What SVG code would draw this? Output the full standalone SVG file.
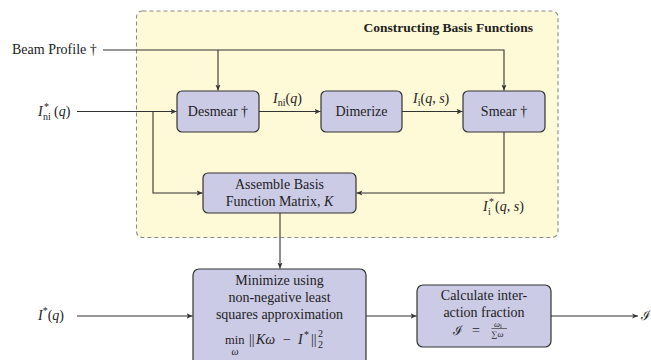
<svg xmlns="http://www.w3.org/2000/svg" width="651" height="360" viewBox="0 0 651 360">
<defs>
<marker id="arr" markerUnits="userSpaceOnUse" markerWidth="7" markerHeight="6" refX="6" refY="3" orient="auto">
<path d="M0,0.4 L6,3 L0,5.6 L1.6,3 Z" fill="#333"/>
</marker>
<style>
text{font-family:"Liberation Serif","Times New Roman",serif;font-size:14px;fill:#222}
.c{text-anchor:middle}
.it{font-style:italic}
.sub{font-size:10px}
.st{font-size:10px}
.cal{font-family:"DejaVu Serif",serif;font-size:13px}
.box{fill:#cccbe6;stroke:#333;stroke-width:1.2}
.ln{fill:none;stroke:#333;stroke-width:1.1}
.ar{marker-end:url(#arr)}
</style>
</defs>
<g id="frame">
<rect x="136.5" y="11" width="421.5" height="226.5" rx="6" fill="#fef9d6" stroke="#8a8a8a" stroke-width="1.1" stroke-dasharray="4,3"/>
<text x="533" y="32" style="font-weight:bold;font-size:13.5px;text-anchor:end">Constructing Basis Functions</text>
</g>
<g id="connectors">
<path class="ln ar" d="M103,50 H504 V90.5"/>
<path class="ln ar" d="M218,50 V90.5"/>
<path class="ln ar" d="M77,111.5 H176.5"/>
<path class="ln ar" d="M153,111.5 V193 H202.5"/>
<path class="ln ar" d="M259,111.5 H320.5"/>
<path class="ln ar" d="M402,111.5 H462.5"/>
<path class="ln ar" d="M504,132 V193 H356.5"/>
<path class="ln ar" d="M280,213 V268.5"/>
<path class="ln ar" d="M77,316 H192.5"/>
<path class="ln ar" d="M366,316 H416.5"/>
<path class="ln ar" d="M551,316 H638"/>
</g>
<g id="labels">
<text x="12" y="54">Beam Profile †</text>
<text x="38" y="116" class="it">I</text>
<text x="44" y="110" class="st">*</text>
<text x="43" y="120" class="sub">ni</text>
<text x="54" y="116">(<tspan class="it">q</tspan>)</text>
<text x="273" y="103"><tspan class="it">I</tspan><tspan class="sub" dy="3">ni</tspan><tspan dy="-3">(</tspan><tspan class="it">q</tspan>)</text>
<text x="413" y="103"><tspan class="it">I</tspan><tspan class="sub" dy="3">i</tspan><tspan dy="-3">(</tspan><tspan class="it">q</tspan>, <tspan class="it">s</tspan>)</text>
<text x="483" y="211" class="it">I</text>
<text x="489" y="205" class="st">*</text>
<text x="488" y="215" class="sub">i</text>
<text x="495" y="211">(<tspan class="it">q</tspan>, <tspan class="it">s</tspan>)</text>
<text x="38" y="320"><tspan class="it">I</tspan><tspan class="st" dy="-6">*</tspan><tspan dy="6">(</tspan><tspan class="it">q</tspan>)</text>
<text class="cal" x="641" y="320">ℐ</text>
</g>
<g id="desmear">
<rect class="box" x="177" y="91" width="82" height="41" rx="5"/>
<text class="c" x="218" y="116">Desmear †</text>
</g>
<g id="dimerize">
<rect class="box" x="321" y="91" width="81" height="41" rx="5"/>
<text class="c" x="361.5" y="116">Dimerize</text>
</g>
<g id="smear">
<rect class="box" x="463" y="91" width="82" height="41" rx="5"/>
<text class="c" x="504" y="116">Smear †</text>
</g>
<g id="assemble">
<rect class="box" x="203" y="173" width="153" height="40" rx="5"/>
<text class="c" x="279.5" y="189">Assemble Basis</text>
<text class="c" x="279.5" y="206">Function Matrix, <tspan class="it">K</tspan></text>
</g>
<g id="minimize">
<rect class="box" x="193" y="269" width="173" height="96" rx="6"/>
<text class="c" x="279.5" y="285">Minimize using</text>
<text class="c" x="279.5" y="302">non-negative least</text>
<text class="c" x="279.5" y="319">squares approximation</text>
<text x="225" y="344" style="font-size:12.5px">min</text>
<text class="it c sub" x="235" y="355">ω</text>
<text x="249" y="344">||</text>
<text x="256" y="344" class="it">Kω</text>
<text x="283" y="344">−</text>
<text x="298" y="344" class="it">I</text>
<text x="304" y="338" class="st">*</text>
<text x="311" y="344">||</text>
<text class="sub" x="318" y="337">2</text>
<text class="sub" x="318" y="348">2</text>
</g>
<g id="calculate">
<rect class="box" x="417" y="285" width="134" height="62" rx="6"/>
<text class="c" x="484" y="300">Calculate inter-</text>
<text class="c" x="484" y="317">action fraction</text>
<text class="cal" x="453" y="335">ℐ</text>
<text x="472" y="335">=</text>
<text class="it" x="494" y="326.5" style="font-size:8.5px">ω<tspan style="font-style:normal;font-size:6.5px" dy="1.5">i</tspan></text>
<line x1="491.5" y1="328.5" x2="507" y2="328.5" stroke="#222" stroke-width="0.6"/>
<text x="491.5" y="337" style="font-size:8.5px">∑<tspan class="it">ω</tspan></text>
</g>
</svg>
